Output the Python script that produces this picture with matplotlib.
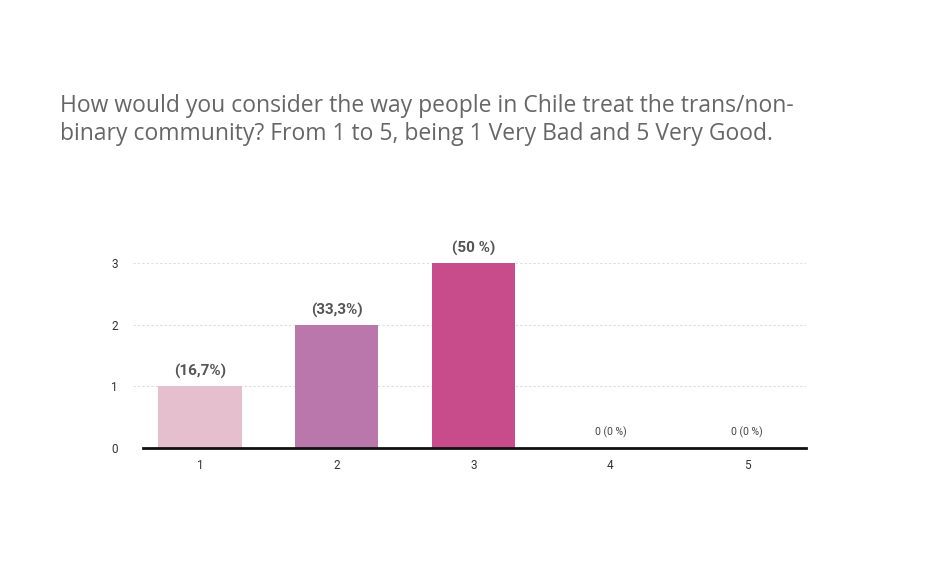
import matplotlib.pyplot as plt

categories = ["1", "2", "3", "4", "5"]
counts = [1, 2, 3, 0, 0]
labels = ["(16,7%)", "(33,3%)", "(50 %)", "0 (0 %)", "0 (0 %)"]
colors = ["#E5BFCE", "#B977AB", "#C84B8B", "#C84B8B", "#C84B8B"]
yticks = [0, 1, 2, 3]

title = ("How would you consider the way people in Chile treat the trans/non-\n"
         "binary community? From 1 to 5, being 1 Very Bad and 5 Very Good.")

fig = plt.figure(figsize=(9.39, 5.69), dpi=100)
ax = fig.add_axes([0.1416, 0.2127, 0.7167, 0.3251])

x = list(range(1, len(categories) + 1))
ax.bar(x, counts, width=0.61, color=colors, zorder=3)

for xi, c, lab in zip(x, counts, labels):
    if c > 0:
        ax.annotate(lab, (xi, c), xytext=(0, 5), textcoords="offset points",
                    ha="center", va="bottom", fontsize=11, fontweight="bold",
                    color="#555555", family="Roboto")
    else:
        ax.annotate(lab, (xi, c), xytext=(0, 7), textcoords="offset points",
                    ha="center", va="bottom", fontsize=7.5,
                    color="#444444", family="Roboto")

ax.set_xlim(0.51, 5.43)
ax.set_ylim(0, 3)
ax.set_xticks(x)
ax.set_xticklabels(categories, family="Roboto", fontsize=8.5, color="#333333")
ax.set_yticks(yticks)
ax.set_yticklabels([str(t) for t in yticks], family="Roboto", fontsize=8.5, color="#333333")
ax.tick_params(length=0, pad=8)
ax.tick_params(axis="y", pad=11)

for t in yticks[1:]:
    ax.axhline(t, color="#DDDDDD", linestyle=(0, (2, 2)), linewidth=0.8, zorder=1)
ax.axhline(0, xmin=(0.58 - 0.51) / (5.43 - 0.51), xmax=1, color="#111111",
           linewidth=2, zorder=4, clip_on=False)

for s in ax.spines.values():
    s.set_visible(False)

fig.text(60 / 939, 1 - 94 / 569, title, ha="left", va="top", fontsize=16.5,
         color="#666666", family="Open Sans", linespacing=1.25)

fig.savefig("out.png", dpi=100)
